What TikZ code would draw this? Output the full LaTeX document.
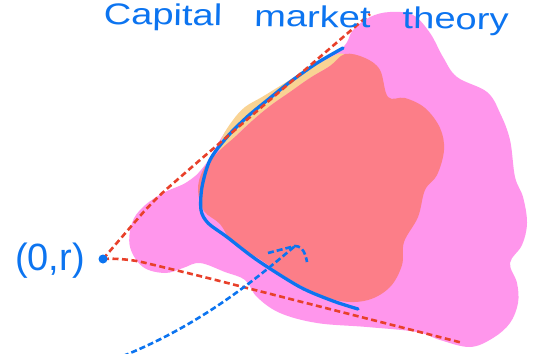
\documentclass[tikz,border=0pt]{standalone}
\usepackage{fontspec}
\setmainfont{Liberation Sans}
\definecolor{inkblue}{RGB}{12,116,240}
\definecolor{redline}{RGB}{232,64,42}
\definecolor{blobpink}{RGB}{255,150,236}
\definecolor{blobsalmon}{RGB}{252,126,136}
\definecolor{bloborange}{RGB}{249,211,147}
\begin{document}
\begin{tikzpicture}[x=1pt,y=-1pt,
  ink/.style={draw=inkblue,line width=3.3pt,line cap=round,line join=round},
  frontier/.style={draw=redline,line width=2.6pt,dash pattern=on 6pt off 3.5pt,rounded corners=18pt},
  hint/.style={draw=inkblue,line width=2.6pt,dash pattern=on 6pt off 3pt},
  note/.style={text=inkblue,inner sep=0pt}]
\useasboundingbox (0,0) rectangle (534,353);
% sets
\fill[blobpink] plot[smooth cycle,tension=0.6] coordinates {(340,50) (353,30) (370,17) (390,12) (413,15) (430,33) (443,57) (457,77) (487,92) (500,113) (510,140) (515,177) (523,197) (527,223) (522,245) (510,263) (517,283) (518,303) (510,323) (493,338) (470,347) (440,340) (417,332) (367,327) (317,323) (280,313) (257,297) (245,280) (225,272) (200,263) (183,268) (165,273) (143,267) (130,247) (132,223) (143,207) (163,193) (187,182) (205,165) (235,120) (290,80)};
\fill[bloborange] plot[smooth cycle,tension=0.6] coordinates {(222,138) (233,120) (245,107) (262,97) (280,86) (300,74) (320,63) (338,54) (345,56) (330,66) (310,78) (290,92) (270,106) (252,121) (236,136) (220,156)};
\fill[blobsalmon] plot[smooth cycle,tension=0.6] coordinates {(345,54) (365,58) (380,70) (388,97) (405,98) (425,108) (440,128) (444,150) (437,175) (425,190) (418,217) (404,242) (402,265) (390,287) (368,300) (340,301) (310,290) (283,275) (258,258) (233,243) (220,224) (204,211) (198,190) (203,170) (218,152) (236,136) (252,121) (270,106) (290,92) (310,78) (330,66)};
% frontier
\draw[ink] plot[smooth] coordinates {(343,48) (317,63) (290,82) (270,98) (247,117) (227,137) (210,160) (202,187) (201,210) (208,223) (227,237) (257,260) (300,287) (333,301) (358,309)};
% risk free asset
\coordinate (rf) at (103,259);
\draw[frontier] (rf) -- (153,201) -- (193,166) -- (370,14);
\draw[frontier] (rf) -- (125,258) -- (200,276) -- (463,343);
\fill[inkblue] (rf) circle (4.5);
% pointer
\coordinate (tip) at (295,246);
\draw[hint] (123,356) .. controls (200,325) and (255,280) .. (tip);
\draw[hint] (268,253) -- (tip) to[out=0,in=100] (307,262);
% labels
\node[note,font=\fontsize{30}{30}\selectfont,xscale=1.27,anchor=base,rotate=-1] (title) at (306,27) {\spaceskip=0.84em Capital market theory};
\node[note,font=\fontsize{38}{38}\selectfont,anchor=base] (rflabel) at (50,270) {(0,r)};
\end{tikzpicture}
\end{document}
